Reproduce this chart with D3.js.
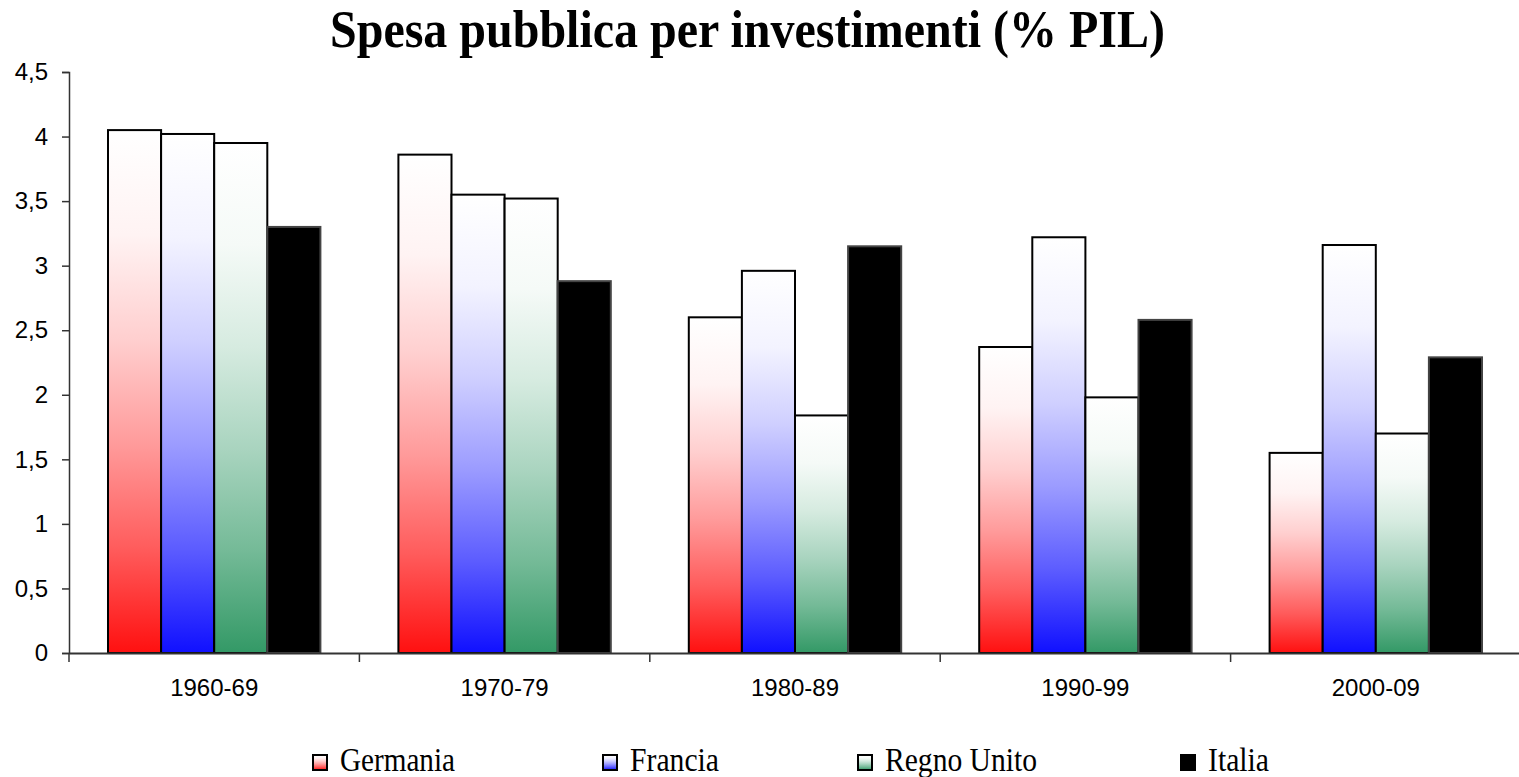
<!DOCTYPE html>
<html>
<head>
<meta charset="utf-8">
<script src="https://cdn.jsdelivr.net/npm/d3@7"></script>
<style>
  html, body { margin: 0; padding: 0; background: #fff; }
  svg { display: block; }
</style>
</head>
<body>
<svg id="chart" width="1519" height="777"></svg>
<script>
const categories = ["1960-69", "1970-79", "1980-89", "1990-99", "2000-09"];
const seriesNames = ["Germania", "Francia", "Regno Unito", "Italia"];
const germania = [4.05, 3.86, 2.60, 2.37, 1.55];
const francia = [4.02, 3.55, 2.96, 3.22, 3.16];
const regnoUnito = [3.95, 3.52, 1.84, 1.98, 1.70];
const italia = [3.30, 2.88, 3.15, 2.58, 2.29];
const yTicks = [0, 0.5, 1, 1.5, 2, 2.5, 3, 3.5, 4, 4.5];
const chartTitle = "Spesa pubblica per investimenti (% PIL)";

(function () {
const seriesValues = [germania, francia, regnoUnito, italia];
const bottomColors = ["#ff1010", "#1010ff", "#339966", "#000000"];
const topColors = ["#ffffff", "#ffffff", "#ffffff", "#000000"];
const stopOffsets = [0, 0.2, 0.4, 0.6, 0.8, 1];
const stopMix = [0, 0.05, 0.2, 0.42, 0.68, 1];

const svg = d3.select("#chart");
const defs = svg.append("defs");
seriesNames.forEach((s, i) => {
  const g = defs.append("linearGradient").attr("id", "grad" + i)
    .attr("x1", 0).attr("y1", 0).attr("x2", 0).attr("y2", 1);
  const interp = d3.interpolateRgb(topColors[i], bottomColors[i]);
  stopOffsets.forEach((o, k) => {
    g.append("stop").attr("offset", o).attr("stop-color", interp(stopMix[k]));
  });
});

const mLeft = 69, mRight = 1521, mTop = 72, mBottom = 653;
const x0 = d3.scaleBand().domain(categories).range([mLeft, mRight]).padding(0);
const x1 = d3.scaleBand().domain(seriesNames).range([39, x0.bandwidth() - 39]).padding(0);
const y = d3.scaleLinear().domain([0, 4.5]).range([mBottom, mTop]);

// Title
svg.append("text")
  .attr("x", 330).attr("y", 47)
  .attr("textLength", 835).attr("lengthAdjust", "spacingAndGlyphs")
  .style("font-family", "'Liberation Serif', 'Times New Roman', serif")
  .style("font-weight", "bold").style("font-size", "52px")
  .text(chartTitle);

// Bars
const groups = svg.append("g").selectAll("g").data(categories).join("g")
  .attr("transform", d => `translate(${x0(d)},0)`);
groups.selectAll("rect")
  .data((c, ci) => seriesNames.map((s, si) => ({ s, si, v: seriesValues[si][ci] })))
  .join("rect")
  .attr("x", d => x1(d.s))
  .attr("width", x1.bandwidth())
  .attr("y", d => y(d.v))
  .attr("height", d => y(0) - y(d.v))
  .attr("fill", d => `url(#grad${d.si})`)
  .attr("stroke", d => d.si === 3 ? "#444" : "#000").attr("stroke-width", 2);

// Y axis
const yAxis = d3.axisLeft(y).tickValues(yTicks).tickSize(7).tickPadding(14)
  .tickFormat(d => d3.format("")(d).replace(".", ","));
const ya = svg.append("g").attr("transform", `translate(${mLeft},0)`).call(yAxis);
ya.select(".domain").attr("stroke", "#333").attr("stroke-width", 1.5);
ya.selectAll(".tick line").attr("stroke", "#333").attr("stroke-width", 1.5);
ya.selectAll("text").style("font-family", "'Liberation Sans', Arial, sans-serif")
  .style("font-size", "24px").attr("fill", "#000");

// X axis
const xa = svg.append("g").attr("transform", `translate(0,${mBottom})`)
  .call(d3.axisBottom(x0).tickSize(0).tickPadding(26));
xa.select(".domain").attr("stroke", "#333").attr("stroke-width", 2);
xa.selectAll("text").style("font-family", "'Liberation Sans', Arial, sans-serif")
  .style("font-size", "24px").attr("fill", "#000");
const boundaries = categories.map(c => x0(c)).concat([mRight]);
xa.selectAll(".bnd").data(boundaries).join("line").attr("class", "bnd")
  .attr("x1", d => d).attr("x2", d => d).attr("y1", 0).attr("y2", 9)
  .attr("stroke", "#333").attr("stroke-width", 1.5);

// Legend
const legendX = [313, 603, 858, 1181];
const legendW = [115, 89, 152, 61];
const lg = svg.append("g").selectAll("g").data(seriesNames).join("g")
  .attr("transform", (d, i) => `translate(${legendX[i]},0)`);
lg.append("rect").attr("x", 0).attr("y", 755).attr("width", 14).attr("height", 15)
  .attr("fill", (d, i) => `url(#grad${i})`).attr("stroke", "#000").attr("stroke-width", 2);
lg.append("text").attr("x", 27).attr("y", 771)
  .attr("textLength", (d, i) => legendW[i]).attr("lengthAdjust", "spacingAndGlyphs")
  .style("font-family", "'Liberation Serif', 'Times New Roman', serif")
  .style("font-size", "33px")
  .text(d => d);
})();
</script>
</body>
</html>
